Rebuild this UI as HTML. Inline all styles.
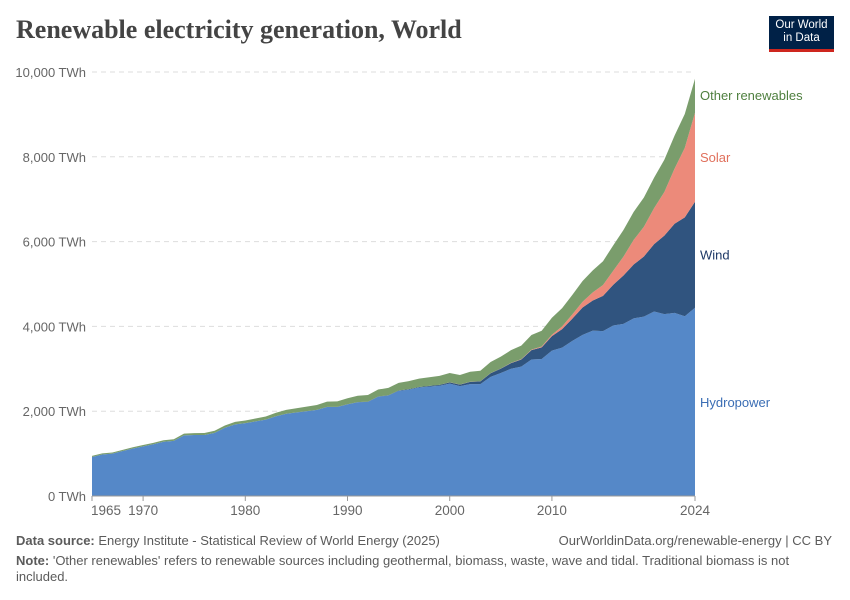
<!DOCTYPE html>
<html><head><meta charset="utf-8">
<style>
body{margin:0;background:#fff;font-family:"Liberation Sans",sans-serif;}
#wrap{position:relative;width:850px;height:600px;overflow:hidden;}
.t{position:absolute;white-space:nowrap;}
</style></head>
<body>
<div id="wrap">
<div class="t" style="left:16px;top:15px;font-family:'Liberation Serif',serif;font-size:26px;font-weight:bold;color:#444;">Renewable electricity generation, World</div>
<div style="position:absolute;left:769px;top:16px;width:65px;height:36px;background:#002147;border-bottom:3px solid #ce261e;color:#fff;font-size:11.5px;line-height:13px;text-align:center;padding-top:3px;box-sizing:border-box;">Our World<br>in Data</div>
<svg id="chart" width="850" height="600" style="position:absolute;left:0;top:0"></svg>
<div class="t" style="left:16px;top:533px;font-size:13px;color:#5b5b5b;"><b>Data source:</b> Energy Institute - Statistical Review of World Energy (2025)</div>
<div class="t" style="right:18px;top:533px;font-size:13px;color:#5b5b5b;">OurWorldinData.org/renewable-energy | CC BY</div>
<div class="t" style="left:16px;top:553px;font-size:13px;color:#5b5b5b;white-space:normal;width:800px;line-height:16px;"><b>Note:</b> 'Other renewables' refers to renewable sources including geothermal, biomass, waste, wave and tidal. Traditional biomass is not included.</div>
</div>
<script>
const years=[];for(let y=1965;y<=2024;y++)years.push(y);
const hydro=[920,980,1000,1060,1120,1170,1220,1280,1300,1430,1440,1440,1490,1610,1690,1720,1760,1800,1880,1940,1970,2000,2030,2100,2100,2160,2210,2220,2340,2370,2480,2510,2560,2580,2600,2650,2590,2640,2640,2810,2900,3000,3050,3220,3230,3430,3500,3660,3800,3900,3890,4020,4060,4190,4230,4350,4290,4320,4240,4440];
const wind=[0,0,0,0,0,0,0,0,0,0,0,0,0,0,0,0,0,0,0,0,1,1,2,3,3,4,4,5,6,7,8,10,12,16,21,31,38,52,63,85,104,133,170,220,276,342,437,523,646,712,831,962,1140,1270,1420,1590,1850,2100,2330,2500];
const solar=[0,0,0,0,0,0,0,0,0,0,0,0,0,0,0,0,0,0,0,0,0,0,0,0,0,0,0,0,0,0,0,0,0,0,0,1,1,2,2,3,4,6,8,12,20,32,63,100,136,190,256,330,445,580,700,850,1030,1300,1640,2100];
const other=[25,26,27,28,30,32,34,36,38,40,43,46,50,54,58,62,68,75,82,90,98,106,114,122,130,140,150,158,165,172,180,188,196,205,212,220,225,235,248,262,280,300,320,345,370,400,430,460,490,520,560,600,630,660,690,720,760,780,800,800];
const yTicks=[0,2000,4000,6000,8000,10000];
const yTickLabels=["0 TWh","2,000 TWh","4,000 TWh","6,000 TWh","8,000 TWh","10,000 TWh"];
const xTicks=[1965,1970,1980,1990,2000,2010,2024];
const series=[{n:"hydropower",v:hydro,c:"#5588c8",lc:"#3a6db4",l:"Hydropower"},{n:"wind",v:wind,c:"#30547f",lc:"#1d3866",l:"Wind"},{n:"solar",v:solar,c:"#ec8a7a",lc:"#e0705c",l:"Solar"},{n:"other-renewables",v:other,c:"#7a9d6c",lc:"#4e7f3e",l:"Other renewables"}];
const X=y=>92+(y-1965)*(695-92)/59;
const Y=v=>496-v*(496-72)/10000;
const svg=document.getElementById('chart');const NS="http://www.w3.org/2000/svg";
function mk(t,a){const e=document.createElementNS(NS,t);for(const k in a)e.setAttribute(k,a[k]);svg.appendChild(e);return e;}
yTicks.forEach((t,i)=>{
 if(t>0){const g=mk('line',{x1:92,x2:695,y1:Y(t),y2:Y(t),stroke:'#ddd','stroke-dasharray':'5,4'});
 
 }
 const tx=mk('text',{x:86,y:Y(t)+5,'text-anchor':'end','font-size':13,fill:'#666','font-family':'Liberation Sans'});tx.textContent=yTickLabels[i];
 
 
});
let base=years.map(()=>0);
series.forEach(s=>{
 const top=base.map((b,i)=>b+s.v[i]);
 let d='M'+years.map((y,i)=>X(y)+','+Y(top[i])).join(' L');
 for(let i=years.length-1;i>=0;i--)d+=' L'+X(years[i])+','+Y(base[i]);
 const p=mk('path',{d:d+'Z',fill:s.c});
 
 
 const last=years.length-1;const mid=(top[last]+base[last])/2;
 const ly=s.n==='other-renewables'?Y(top[last])+21:Y(mid)+5;
 const lt=mk('text',{x:700,y:ly,'font-size':13,fill:s.lc,'font-family':'Liberation Sans'});lt.textContent=s.l;
 
 
 base=top;
});
const ax=mk('line',{x1:92,x2:695,y1:496,y2:496,stroke:'#999'});


xTicks.forEach(t=>{
 const l=mk('line',{x1:X(t),x2:X(t),y1:496,y2:501,stroke:'#999'});
 
 
 const tx=mk('text',{x:X(t)+(t===1965?14:0),y:515,'text-anchor':'middle','font-size':13.5,fill:'#666','font-family':'Liberation Sans'});tx.textContent=t;
 
 
});
</script>
</body></html>
